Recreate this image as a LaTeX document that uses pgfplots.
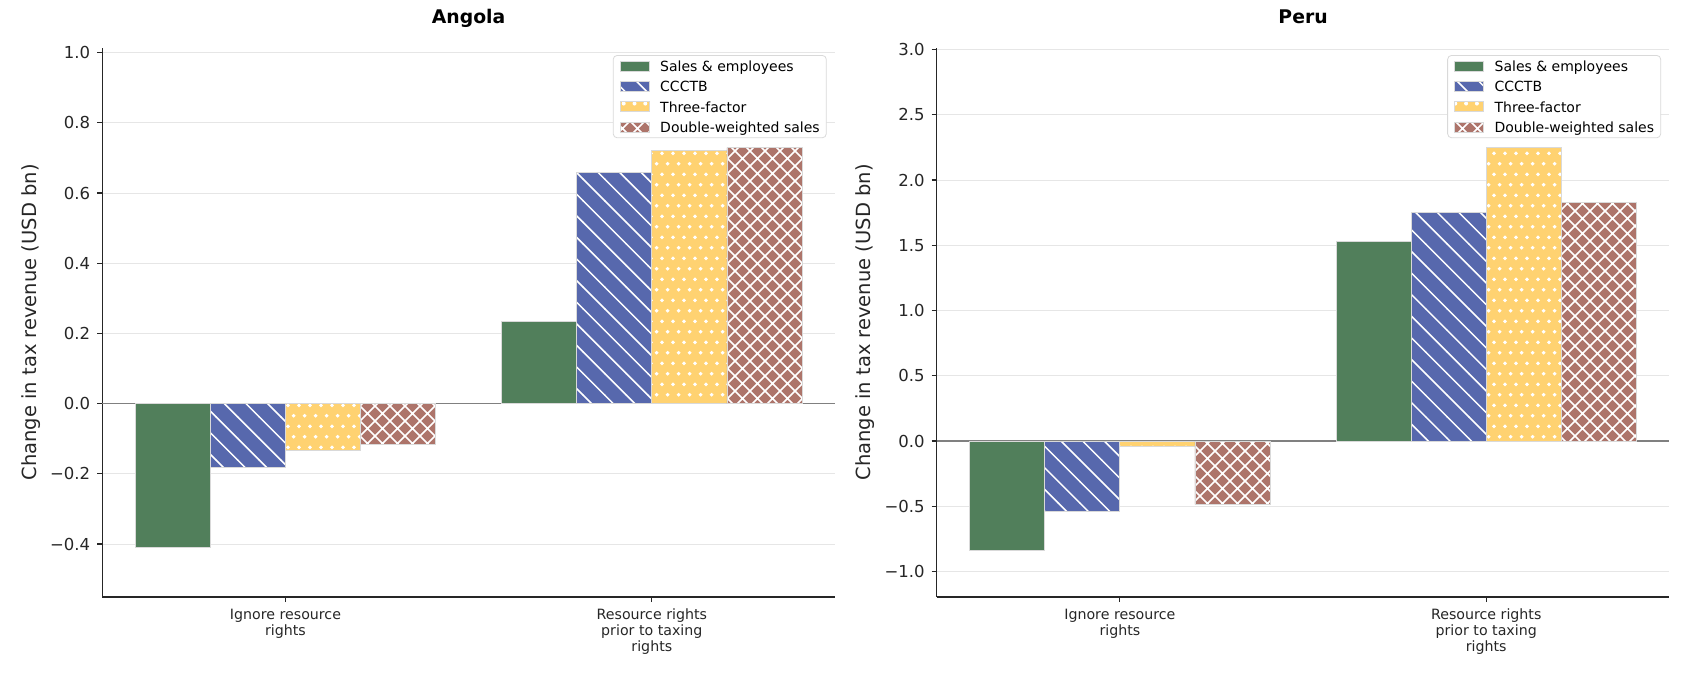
\documentclass[border=0pt]{standalone}
\usepackage{fontspec}
\setmainfont{DejaVu Sans}
\usepackage{pgfplots}
\pgfplotsset{compat=1.18}
\usetikzlibrary{patterns}

\definecolor{cgreen}{HTML}{517F5B}
\definecolor{cblue}{HTML}{5768AD}
\definecolor{cyellow}{HTML}{FFD271}
\definecolor{cbrown}{HTML}{AD746A}
\definecolor{cgrid}{HTML}{E6E6E6}
\definecolor{cspine}{HTML}{262626}

\pgfdeclarepatternformonly{diaglines}{\pgfqpoint{-1pt}{-1pt}}{\pgfqpoint{11.8pt}{11.8pt}}{\pgfqpoint{10.8pt}{10.8pt}}{%
  \pgfsetlinewidth{0.75pt}%
  \pgfpathmoveto{\pgfqpoint{-0.1pt}{10.9pt}}%
  \pgfpathlineto{\pgfqpoint{10.9pt}{-0.1pt}}%
  \pgfusepath{stroke}}
\pgfdeclarepatternformonly{xhatch}{\pgfqpoint{-1pt}{-1pt}}{\pgfqpoint{8.5pt}{8.5pt}}{\pgfqpoint{7.5pt}{7.5pt}}{%
  \pgfsetlinewidth{0.75pt}%
  \pgfpathmoveto{\pgfqpoint{-0.1pt}{-0.1pt}}\pgfpathlineto{\pgfqpoint{7.6pt}{7.6pt}}%
  \pgfpathmoveto{\pgfqpoint{-0.1pt}{7.6pt}}\pgfpathlineto{\pgfqpoint{7.6pt}{-0.1pt}}%
  \pgfusepath{stroke}}
\pgfdeclarepatternformonly{stagdots}{\pgfqpoint{0pt}{0pt}}{\pgfqpoint{5.4pt}{10.7pt}}{\pgfqpoint{5.4pt}{10.7pt}}{%
  \pgfpathcircle{\pgfqpoint{1.35pt}{2.675pt}}{1pt}%
  \pgfpathcircle{\pgfqpoint{4.05pt}{8.025pt}}{1pt}%
  \pgfusepath{fill}}

\pgfplotsset{
  mybars/.style={
    scale only axis,
    width=366.35pt, height=274.65pt,
    anchor=south west,
    xmin=-0.5, xmax=1.5,
    axis lines=left,
    axis line style={-, line width=0.6pt, draw=cspine},
    tick align=outside,
    major tick length=2.5pt,
    every tick/.style={line width=0.6pt, draw=cspine},
    ymajorgrids,
    grid style={line width=0.5pt, draw=cgrid},
    xtick={0,1},
    xticklabels={{Ignore resource\\rights},{Resource rights\\prior to taxing\\rights}},
    xticklabel style={align=center, font=\fontsize{7.1}{7.9}\selectfont, text=cspine},
    yticklabel style={font=\fontsize{8.25}{9}\selectfont, text=cspine},
    every axis y label/.style={at={(rel axis cs:-0.0977,0.5)}, rotate=90, anchor=center, font=\fontsize{9.75}{11}\selectfont, text=cspine},
    ylabel={Change in tax revenue (USD bn)},
    title style={at={(rel axis cs:0.5,1)}, anchor=base, yshift=6pt, font=\fontsize{9.4}{11}\selectfont\bfseries, text=black},
    extra y ticks={0},
    extra y tick labels={},
    extra y tick style={grid style={draw=gray, line width=0.6pt}, major tick length=0pt},
    ybar, bar width=0.205,
    legend cell align=left,
    legend image code/.code={\draw[#1, sharp corners] (0pt,-2.5pt) rectangle (14.5pt,2.5pt);},
    legend style={at={(rel axis cs:1,1)}, anchor=north east, xshift=-4.15pt, yshift=-3.65pt,
      font=\fontsize{7}{8}\selectfont, draw=black!15, rounded corners=2pt, fill=white,
      inner xsep=3.3pt, inner ysep=0.3pt, row sep=0pt, column sep=5.3pt,
      nodes={inner xsep=0pt, inner ysep=0pt, minimum height=10.15pt, text depth=0pt, anchor=west}},
  },
  s1/.style={fill=cgreen, draw=white!85!black, line width=0.4pt, bar shift=-0.3075},
  s2/.style={fill=cblue, draw=white!85!black, line width=0.4pt, bar shift=-0.1025, postaction={pattern=diaglines, pattern color=white}},
  s3/.style={fill=cyellow, draw=white!85!black, line width=0.4pt, bar shift=0.1025, postaction={pattern=stagdots, pattern color=white}},
  s4/.style={fill=cbrown, draw=white!85!black, line width=0.4pt, bar shift=0.3075, postaction={pattern=xhatch, pattern color=white}},
}

\begin{document}
\begin{tikzpicture}
\path[use as bounding box] (0,0) rectangle (845pt,338pt);

\begin{axis}[mybars, at={(51.15pt,39.5pt)},
  title={Angola},
  ymin=-0.551, ymax=1.014,
  ytick={-0.4,-0.2,0,0.2,0.4,0.6,0.8,1.0},
  yticklabels={−0.4,−0.2,0.0,0.2,0.4,0.6,0.8,1.0},
]
\addplot[s1] coordinates {(0,-0.411) (1,0.233)};
\addplot[s2] coordinates {(0,-0.182) (1,0.659)};
\addplot[s3] coordinates {(0,-0.134) (1,0.720)};
\addplot[s4] coordinates {(0,-0.115) (1,0.729)};
\legend{Sales \& employees, CCCTB, Three-factor, Double-weighted sales}
\end{axis}

\begin{axis}[mybars, at={(468.35pt,39.5pt)},
  title={Peru},
  ymin=-1.195, ymax=3.014,
  ytick={-1,-0.5,0,0.5,1,1.5,2,2.5,3},
  yticklabels={−1.0,−0.5,0.0,0.5,1.0,1.5,2.0,2.5,3.0},
]
\addplot[s1] coordinates {(0,-0.836) (1,1.528)};
\addplot[s2] coordinates {(0,-0.536) (1,1.749)};
\addplot[s3] coordinates {(0,-0.042) (1,2.248)};
\addplot[s4] coordinates {(0,-0.485) (1,1.829)};
\legend{Sales \& employees, CCCTB, Three-factor, Double-weighted sales}
\end{axis}
\end{tikzpicture}
\end{document}
